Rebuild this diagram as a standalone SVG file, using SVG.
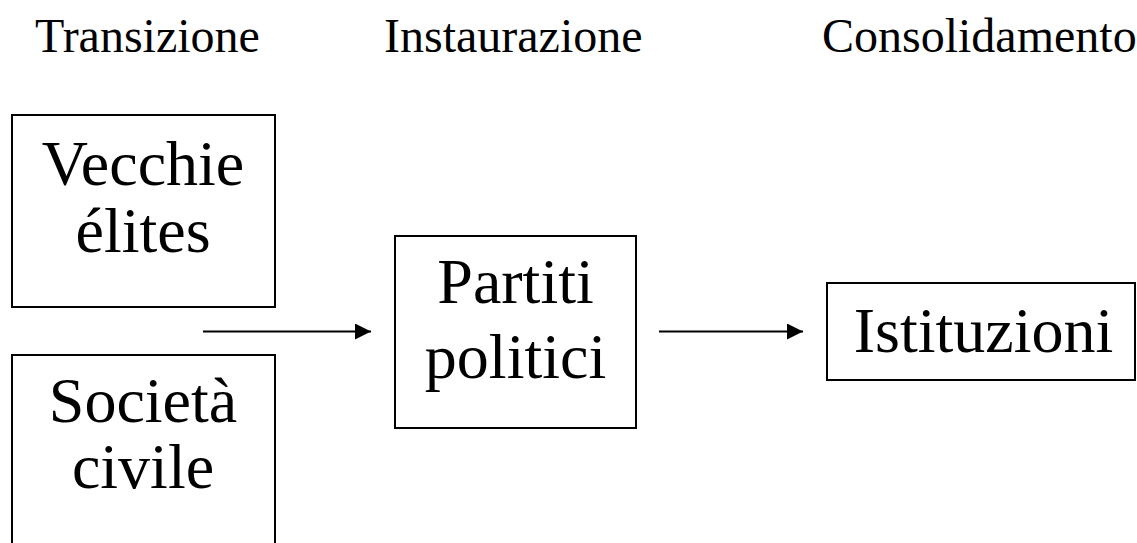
<svg xmlns="http://www.w3.org/2000/svg" width="1137" height="543" viewBox="0 0 1137 543">
  <style>
    .box { fill: #ffffff; stroke: #000000; stroke-width: 2; }
    .lbl { font-family: "Liberation Serif", "Times New Roman", serif; font-size: 64px; fill: #000000; text-anchor: middle; }
    .phase { font-family: "Liberation Serif", "Times New Roman", serif; font-size: 48px; fill: #000000; }
    .link { stroke: #000000; stroke-width: 2; fill: none; marker-end: url(#arrow); }
  </style>
  <defs>
    <marker id="arrow" markerUnits="userSpaceOnUse" markerWidth="16" markerHeight="16" refX="16" refY="8" orient="auto">
      <path d="M0,0 L16,8 L0,16 Z" fill="#000000"/>
    </marker>
  </defs>
  <rect width="1137" height="543" fill="#ffffff"/>

  <!-- phase headings -->
  <g id="phases">
    <text class="phase" x="35" y="52">Transizione</text>
    <text class="phase" x="384" y="52">Instaurazione</text>
    <text class="phase" x="822" y="52">Consolidamento</text>
  </g>

  <!-- actors -->
  <g id="node-vecchie-elites">
    <rect class="box" x="12" y="115" width="263" height="192"/>
    <text class="lbl" x="143" y="185">Vecchie</text>
    <text class="lbl" x="143" y="252">élites</text>
  </g>

  <g id="node-societa-civile">
    <rect class="box" x="12" y="355" width="263" height="200"/>
    <text class="lbl" x="143" y="422">Società</text>
    <text class="lbl" x="143" y="488">civile</text>
  </g>

  <g id="node-partiti-politici">
    <rect class="box" x="395" y="236" width="241" height="192"/>
    <text class="lbl" x="515.5" y="303">Partiti</text>
    <text class="lbl" x="515.5" y="378">politici</text>
  </g>

  <g id="node-istituzioni">
    <rect class="box" x="827" y="283" width="308" height="97"/>
    <text class="lbl" x="983.5" y="352">Istituzioni</text>
  </g>

  <!-- connectors -->
  <g id="connectors">
    <line class="link" x1="203" y1="331.5" x2="371" y2="331.5"/>
    <line class="link" x1="659" y1="331.5" x2="803" y2="331.5"/>
  </g>
</svg>
